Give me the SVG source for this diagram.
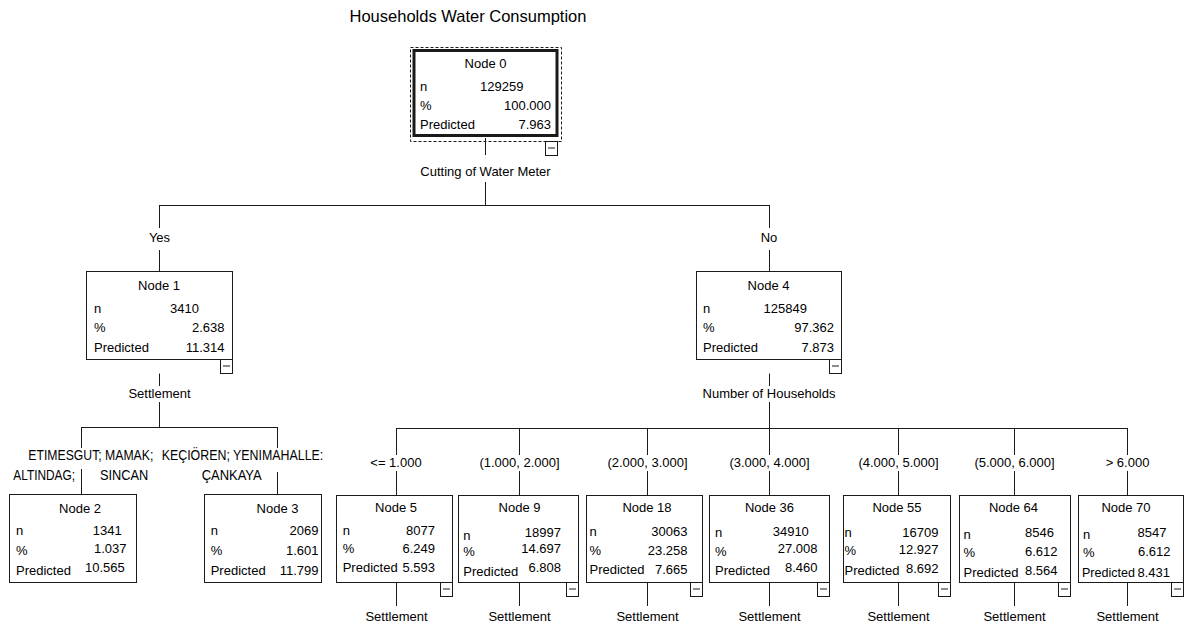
<svg xmlns="http://www.w3.org/2000/svg" width="1185" height="625" viewBox="0 0 1185 625">
<style>
text{font-family:"Liberation Sans",Arial,sans-serif;font-size:13px;fill:#000}
.t{font-size:16.5px;text-anchor:middle}
.c{text-anchor:middle}
.e{text-anchor:end}
.u{font-size:14px}
.box{fill:#fff;stroke:#1a1a1a;stroke-width:1}
.root{fill:#fff;stroke:#1a1a1a;stroke-width:3}
.dash{fill:none;stroke:#1a1a1a;stroke-width:1;stroke-dasharray:3 2}
.ln{fill:none;stroke:#1a1a1a;stroke-width:1}
.mb{fill:#fff;stroke:#1a1a1a;stroke-width:1}
</style>
<defs>
<g id="minus"><rect class="mb" x="0" y="0" width="12" height="14"/><path class="ln" d="M2.5 6.5H9.5"/></g>
</defs>
<rect width="1185" height="625" fill="#fff"/>
<text class="t" x="468" y="22">Households Water Consumption</text>

<g id="connectors">
<path class="ln" d="M485.5 138V155M485.5 182V205.5M159.5 205.5H769.5M159.5 205V228M159.5 250V271.5M769.5 205V228M769.5 250V271.5"/>
<text class="c" x="485.5" y="176">Cutting of Water Meter</text>
<text class="c" x="159.5" y="241.5">Yes</text>
<text class="c" x="769" y="241.5">No</text>
<path class="ln" d="M159.5 373.5V386M159.5 402V427.5M81.5 427.5H277.5M81.5 427V448M81.5 469V494.5M277.5 427V448M277.5 472V494.5"/>
<text class="c" x="159.5" y="398">Settlement</text>
<text class="u" x="28.3" y="460" textLength="125" lengthAdjust="spacingAndGlyphs">ETIMESGUT; MAMAK;</text>
<text class="u" x="13.3" y="480" textLength="61.7" lengthAdjust="spacingAndGlyphs">ALTINDAG;</text>
<text class="u" x="100" y="480" textLength="48.3" lengthAdjust="spacingAndGlyphs">SINCAN</text>
<text class="u" x="161.7" y="460" textLength="161.6" lengthAdjust="spacingAndGlyphs">KEÇIÖREN; YENIMAHALLE:</text>
<text class="u" x="201.7" y="480" textLength="60" lengthAdjust="spacingAndGlyphs">ÇANKAYA</text>
<path class="ln" d="M769.5 373.5V386M769.5 402V428.5M396.5 428.5H1127.5M396.5 428V455M396.5 471V495.5M519.5 428V455M519.5 471V495.5M647.5 428V455M647.5 471V495.5M769.5 428V455M769.5 471V495.5M898.5 428V455M898.5 471V495.5M1014.5 428V455M1014.5 471V495.5M1127.5 428V455M1127.5 471V495.5"/>
<text class="c" x="769" y="398">Number of Households</text>
<text class="c" x="396" y="467">&lt;= 1.000</text>
<text class="c" x="519.5" y="467">(1.000, 2.000]</text>
<text class="c" x="647.5" y="467">(2.000, 3.000]</text>
<text class="c" x="769.5" y="467">(3.000, 4.000]</text>
<text class="c" x="898.5" y="467">(4.000, 5.000]</text>
<text class="c" x="1014.5" y="467">(5.000, 6.000]</text>
<text class="c" x="1127.5" y="467">&gt; 6.000</text>
<path class="ln" d="M396.5 582.5V606M519.5 582.5V606M647.5 582.5V606M769.5 582.5V606M898.5 582.5V606M1014.5 582.5V606M1127.5 582.5V606"/>
<text class="c" x="396.5" y="621">Settlement</text>
<text class="c" x="519.5" y="621">Settlement</text>
<text class="c" x="647.5" y="621">Settlement</text>
<text class="c" x="769.5" y="621">Settlement</text>
<text class="c" x="898.5" y="621">Settlement</text>
<text class="c" x="1014.5" y="621">Settlement</text>
<text class="c" x="1127.5" y="621">Settlement</text>
</g>

<g id="node0">
<rect class="dash" x="410.5" y="47.5" width="151" height="94"/>
<rect class="root" x="414" y="50.5" width="143" height="85"/>
<text class="c" x="485.5" y="68">Node 0</text>
<text x="420" y="91">n</text><text x="480" y="91">129259</text>
<text x="420" y="110">%</text><text class="e" x="551" y="110">100.000</text>
<text x="420" y="129">Predicted</text><text class="e" x="551" y="129">7.963</text>
<use href="#minus" x="545.5" y="141.5"/>
</g>

<g id="node1">
<rect class="box" x="86.5" y="271.5" width="146" height="88"/>
<text class="c" x="159" y="290">Node 1</text>
<text x="94" y="313">n</text><text x="170" y="313">3410</text>
<text x="94" y="332">%</text><text class="e" x="224.5" y="332">2.638</text>
<text x="94" y="352">Predicted</text><text class="e" x="224.5" y="352">11.314</text>
<use href="#minus" x="220.5" y="359.5"/>
</g>

<g id="node4">
<rect class="box" x="696.5" y="271.5" width="145" height="88"/>
<text class="c" x="768.5" y="290">Node 4</text>
<text x="703" y="313">n</text><text x="763.5" y="313">125849</text>
<text x="703" y="332">%</text><text class="e" x="834" y="332">97.362</text>
<text x="703" y="352">Predicted</text><text class="e" x="834" y="352">7.873</text>
<use href="#minus" x="829.5" y="359.5"/>
</g>

<g id="node2">
<rect class="box" x="9.5" y="494.5" width="127" height="88"/>
<text class="c" x="80" y="513">Node 2</text>
<text x="16" y="535">n</text><text x="92.7" y="535">1341</text>
<text x="16" y="555">%</text><text x="94" y="553">1.037</text>
<text x="16" y="575">Predicted</text><text x="85" y="572">10.565</text>
</g>

<g id="node3">
<rect class="box" x="204.5" y="494.5" width="117" height="88"/>
<text class="c" x="277.5" y="513">Node 3</text>
<text x="210.7" y="535">n</text><text class="e" x="318.5" y="535">2069</text>
<text x="210.7" y="555">%</text><text class="e" x="318.5" y="555">1.601</text>
<text x="210.7" y="575">Predicted</text><text class="e" x="318.5" y="575">11.799</text>
</g>

<g id="node5">
<rect class="box" x="336.5" y="495.5" width="116" height="87"/>
<text class="c" x="396" y="512">Node 5</text>
<text x="342.7" y="535">n</text><text class="e" x="435" y="535">8077</text>
<text x="342.7" y="553">%</text><text class="e" x="435" y="553">6.249</text>
<text x="342.7" y="572">Predicted</text><text class="e" x="435" y="572">5.593</text>
<use href="#minus" x="440.5" y="582.5"/>
</g>

<g id="node9">
<rect class="box" x="458.5" y="495.5" width="120" height="87"/>
<text class="c" x="519.5" y="512">Node 9</text>
<text x="463.3" y="540">n</text><text class="e" x="561" y="536.5">18997</text>
<text x="463.3" y="556">%</text><text class="e" x="561" y="553">14.697</text>
<text x="463.3" y="576">Predicted</text><text class="e" x="561" y="571.5">6.808</text>
<use href="#minus" x="566.5" y="582.5"/>
</g>

<g id="node18">
<rect class="box" x="586.5" y="495.5" width="116" height="87"/>
<text class="c" x="647" y="512">Node 18</text>
<text x="589.5" y="536">n</text><text class="e" x="687.5" y="536">30063</text>
<text x="589.5" y="555">%</text><text class="e" x="687.5" y="555">23.258</text>
<text x="589.5" y="574">Predicted</text><text class="e" x="687.5" y="574">7.665</text>
<use href="#minus" x="690.5" y="582.5"/>
</g>

<g id="node36">
<rect class="box" x="709.5" y="495.5" width="120" height="87"/>
<text class="c" x="769.5" y="512">Node 36</text>
<text x="715" y="537">n</text><text x="772.7" y="536">34910</text>
<text x="715" y="556">%</text><text class="e" x="817.5" y="553">27.008</text>
<text x="715" y="575">Predicted</text><text class="e" x="817.5" y="571.5">8.460</text>
<use href="#minus" x="817.5" y="582.5"/>
</g>

<g id="node55">
<rect class="box" x="843.5" y="495.5" width="107" height="87"/>
<text class="c" x="897" y="512">Node 55</text>
<text x="844.5" y="537">n</text><text class="e" x="938.5" y="537">16709</text>
<text x="844.5" y="555">%</text><text class="e" x="938.5" y="554">12.927</text>
<text x="844.5" y="575">Predicted</text><text class="e" x="938.5" y="573">8.692</text>
<use href="#minus" x="938.5" y="582.5"/>
</g>

<g id="node64">
<rect class="box" x="959.5" y="495.5" width="111" height="87"/>
<text class="c" x="1013.5" y="512">Node 64</text>
<text x="963.5" y="539">n</text><text x="1025" y="537">8546</text>
<text x="963.5" y="557">%</text><text class="e" x="1057.5" y="556">6.612</text>
<text x="963.5" y="577">Predicted</text><text class="e" x="1057.5" y="575">8.564</text>
<use href="#minus" x="1058.5" y="582.5"/>
</g>

<g id="node70">
<rect class="box" x="1078.5" y="495.5" width="105" height="87"/>
<text class="c" x="1126" y="512">Node 70</text>
<text x="1083" y="539">n</text><text x="1137.5" y="537">8547</text>
<text x="1083" y="557">%</text><text class="e" x="1170.5" y="556">6.612</text>
<text x="1082" y="577" textLength="53" lengthAdjust="spacingAndGlyphs">Predicted</text><text x="1137.5" y="576.5">8.431</text>
<use href="#minus" x="1171.5" y="582.5"/>
</g>
</svg>
